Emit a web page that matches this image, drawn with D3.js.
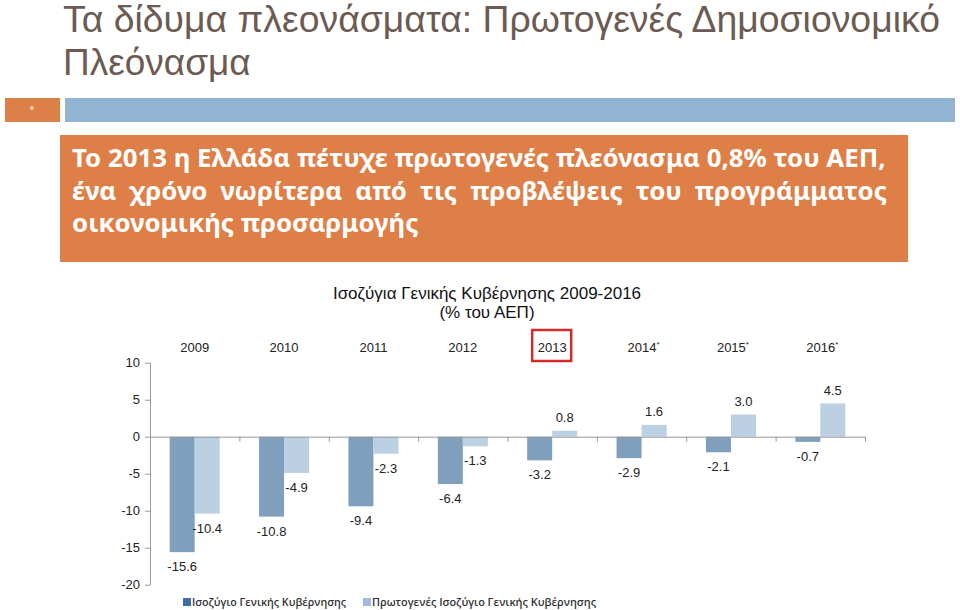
<!DOCTYPE html>
<html>
<head>
<meta charset="utf-8">
<script src="https://cdn.jsdelivr.net/npm/d3@7"></script>
<style>
  body { margin: 0; background: #fff; }
  svg { display: block; }
</style>
</head>
<body>
<svg width="960" height="610"></svg>
<script>
// δεδομένα
const years = ["2009", "2010", "2011", "2012", "2013", "2014", "2015", "2016"];
const yearLabels = ["2009", "2010", "2011", "2012", "2013", "2014*", "2015*", "2016*"];
const balance = [-15.6, -10.8, -9.4, -6.4, -3.2, -2.9, -2.1, -0.7];
const primaryBalance = [-10.4, -4.9, -2.3, -1.3, 0.8, 1.6, 3.0, 4.5];
const yTicks = [-20, -15, -10, -5, 0, 5, 10];
const seriesNames = ["Ισοζύγιο Γενικής Κυβέρνησης", "Πρωτογενές Ισοζύγιο Γενικής Κυβέρνησης"];

const titleLines = ["Τα δίδυμα πλεονάσματα: Πρωτογενές Δημοσιονομικό", "Πλεόνασμα"];
const boxLines = [
  "Το 2013 η Ελλάδα πέτυχε πρωτογενές πλεόνασμα 0,8% του ΑΕΠ,",
  "ένα χρόνο νωρίτερα από τις προβλέψεις του προγράμματος",
  "οικονομικής προσαρμογής"
];
const chartTitle = ["Ισοζύγια Γενικής Κυβέρνησης 2009-2016", "(% του ΑΕΠ)"];

const svg = d3.select("svg");
const fmt = v => d3.format(".1f")(v).replace("−", "-");

// τίτλος σελίδας
svg.selectAll(".title")
  .data(titleLines)
  .enter().append("text")
  .attr("x", 63)
  .attr("y", (d, i) => 32 + i * 43)
  .style("font-family", "'Liberation Sans Narrow', 'Liberation Sans', sans-serif")
  .style("font-size", "37px")
  .style("fill", "#6b5b52")
  .text(d => d)
  .each(function(d, i) {
    if (i === 0) d3.select(this).attr("textLength", 877).attr("lengthAdjust", "spacingAndGlyphs");
  });

// μπάρα κεφαλίδας
svg.append("rect").attr("x", 5).attr("y", 98).attr("width", 55).attr("height", 24).style("fill", "#dd8047");
svg.append("text").attr("x", 32).attr("y", 114).attr("text-anchor", "middle")
  .style("font-family", "Liberation Sans").style("font-size", "11px").style("fill", "#fff").text("*");
svg.append("rect").attr("x", 65).attr("y", 98).attr("width", 890).attr("height", 24).style("fill", "#93b3d3");

// πορτοκαλί πλαίσιο
svg.append("rect").attr("x", 60).attr("y", 135).attr("width", 848).attr("height", 127).style("fill", "#de7f47");

const boxFont = "'Noto Sans', 'Open Sans', sans-serif";
const boxG = svg.append("g")
  .style("font-family", boxFont).style("font-weight", "bold").style("fill", "#fff");

// μέγεθος γραμματοσειράς ώστε η 1η γραμμή να πιάνει 814px
const probe = boxG.append("text").style("font-size", "22px").text(boxLines[0]);
const boxSize = 22 * 814 / probe.node().getComputedTextLength();
probe.remove();

const lineY = [167, 199.5, 232];
[0, 2].forEach(i => {
  boxG.append("text")
    .attr("x", 72).attr("y", lineY[i])
    .style("font-size", boxSize + "px")
    .text(boxLines[i]);
});
// γραμμή 2 πλήρως στοιχισμένη
{
  const words = boxLines[1].split(" ");
  const ws = words.map(w => boxG.append("text")
    .attr("y", lineY[1]).style("font-size", boxSize + "px").text(w));
  const widths = ws.map(t => t.node().getComputedTextLength());
  const gap = (887 - 72 - d3.sum(widths)) / (words.length - 1);
  let cx = 72;
  ws.forEach((t, i) => { t.attr("x", cx); cx += widths[i] + gap; });
}

// τίτλος γραφήματος
svg.selectAll(".ctitle")
  .data(chartTitle)
  .enter().append("text")
  .attr("x", 487)
  .attr("y", (d, i) => 299 + i * 19)
  .attr("text-anchor", "middle")
  .style("font-family", "'Liberation Sans', Arial, sans-serif")
  .style("font-size", "17px")
  .style("fill", "#111")
  .text(d => d);

// κλίμακες
const x = d3.scaleBand().domain(years).range([150, 865]);
const x1 = d3.scaleBand().domain([0, 1])
  .range([x.bandwidth() / 2 - 25, x.bandwidth() / 2 + 25]);
const y = d3.scaleLinear().domain([-20, 10]).range([584.7, 362.7]);

const table = years.map((yr, i) => ({ year: yr, label: yearLabels[i], values: [balance[i], primaryBalance[i]] }));
const barColors = ["#7f9fbc", "#bcd0e4"];

// άξονας y
const yAxis = svg.append("g")
  .attr("transform", "translate(150,0)")
  .call(d3.axisLeft(y).tickValues(yTicks).tickSize(5).tickSizeOuter(0));
yAxis.select(".domain").style("stroke", "#999");
yAxis.selectAll(".tick line").style("stroke", "#999");
yAxis.selectAll(".tick text")
  .attr("x", -10)
  .style("font-family", "'Liberation Sans', Arial, sans-serif")
  .style("font-size", "13px")
  .style("fill", "#222")
  .text(d => String(d));

// ράβδοι
const groups = svg.append("g").selectAll("g")
  .data(table)
  .enter().append("g")
  .attr("transform", d => `translate(${x(d.year)},0)`);

groups.selectAll("rect")
  .data(d => d.values)
  .enter().append("rect")
  .attr("x", (d, i) => x1(i))
  .attr("width", x1.bandwidth())
  .attr("y", d => y(Math.max(0, d)))
  .attr("height", d => Math.abs(y(d) - y(0)))
  .style("fill", (d, i) => barColors[i]);

// ετικέτες τιμών
groups.selectAll(".val")
  .data(d => d.values)
  .enter().append("text")
  .attr("x", (d, i) => x1(i) + x1.bandwidth() / 2)
  .attr("y", d => d < 0 ? y(d) + 19 : y(d) - 8.5)
  .attr("text-anchor", "middle")
  .style("font-family", "'Liberation Sans', Arial, sans-serif")
  .style("font-size", "13px")
  .style("fill", "#222")
  .text(d => fmt(d));

// άξονας x στο μηδέν
const xb = d3.scaleLinear().domain([0, years.length]).range(x.range());
const xAxis = svg.append("g")
  .attr("transform", `translate(0,${y(0)})`)
  .call(d3.axisBottom(xb).tickValues(d3.range(1, years.length + 1)).tickSize(5).tickSizeOuter(0).tickFormat(""));
xAxis.select(".domain").style("stroke", "#999");
xAxis.selectAll(".tick line").style("stroke", "#999");

// έτη στην κορυφή
const yl = svg.append("g").selectAll("text")
  .data(table)
  .enter().append("text")
  .attr("x", d => x(d.year) + x.bandwidth() / 2 + (d.label.length > 4 ? 2 : 0))
  .attr("y", 352)
  .attr("text-anchor", "middle")
  .style("font-family", "'Liberation Sans', Arial, sans-serif")
  .style("font-size", "13px")
  .style("fill", "#222");
yl.append("tspan").text(d => d.year);
yl.filter(d => d.label.length > 4).append("tspan")
  .attr("dy", -5).style("font-size", "8px").text("*");

// κόκκινο πλαίσιο γύρω από το 2013
svg.append("rect")
  .attr("x", x("2013") + x.bandwidth() / 2 - 20)
  .attr("y", 330)
  .attr("width", 39)
  .attr("height", 31)
  .style("fill", "none")
  .style("stroke", "#d42a2a")
  .style("stroke-width", 2.5);

// υπόμνημα
const legendColors = ["#3d6fa6", "#a6b9dc"];
const legendX = [183, 363];
const legend = svg.append("g").selectAll("g")
  .data(seriesNames)
  .enter().append("g")
  .attr("transform", (d, i) => `translate(${legendX[i]},598)`);
legend.append("rect").attr("width", 8).attr("height", 8).style("fill", (d, i) => legendColors[i]);
legend.append("text")
  .attr("x", 9).attr("y", 8)
  .style("font-family", "'Open Sans', 'Noto Sans', sans-serif")
  .style("font-size", "11px")
  .style("font-weight", "600")
  .style("fill", "#333")
  .attr("textLength", (d, i) => i === 0 ? 154 : 224)
  .attr("lengthAdjust", "spacingAndGlyphs")
  .text(d => d);
</script>
</body>
</html>
